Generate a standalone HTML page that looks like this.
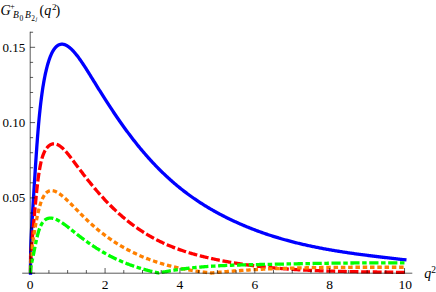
<!DOCTYPE html><html><head><meta charset="utf-8"><title>plot</title><style>html,body{margin:0;padding:0;background:#fff;font-family:"Liberation Serif",serif}svg{display:block}</style></head><body>
<svg width="436" height="292" viewBox="0 0 436 292">
<rect width="436" height="292" fill="#fff"/>
<path d="M30.5 273L30.5 271.22L30.5 269.5L30.51 267.84L30.51 266.24L30.52 264.7L30.53 263.21L30.54 261.76L30.55 260.37L30.56 259.02L30.58 257.7L30.59 256.43L30.61 255.2L30.63 254L30.65 252.83L30.67 251.68L30.7 250.57L30.72 249.48L30.75 248.41L30.78 247.36L30.81 246.33L30.84 245.31L30.87 244.31L30.91 243.32L30.94 242.34L30.98 241.37L31.02 240.4L31.06 239.44L31.1 238.48L31.14 237.52L31.19 236.56L31.24 235.59L31.28 234.63L31.33 233.65L31.39 232.68L31.44 231.69L31.49 230.69L31.55 229.69L31.61 228.67L31.67 227.64L31.73 226.59L31.79 225.53L31.85 224.46L31.92 223.37L31.98 222.26L32.05 221.13L32.12 219.98L32.19 218.81L32.27 217.63L32.34 216.42L32.42 215.18L32.49 213.93L32.57 212.66L32.65 211.36L32.73 210.03L32.82 208.69L32.9 207.32L32.99 205.92L33.08 204.5L33.17 203.06L33.26 201.6L33.35 200.1L33.45 198.59L33.54 197.05L33.64 195.49L33.74 193.9L33.84 192.29L33.94 190.66L34.04 189L34.15 187.32L34.25 185.62L34.36 183.9L34.47 182.16L34.58 180.4L34.7 178.62L34.81 176.83L34.93 175.01L35.04 173.18L35.16 171.33L35.28 169.47L35.4 167.6L35.53 165.71L35.65 163.81L35.78 161.9L35.91 159.98L36.04 158.06L36.17 156.13L36.3 154.19L36.43 152.25L36.57 150.31L36.71 148.37L36.84 146.43L36.98 144.49L37.13 142.56L37.27 140.63L37.41 138.72L37.56 136.81L37.71 134.92L37.86 133.04L38.01 131.17L38.16 129.33L38.32 127.5L38.47 125.69L38.63 123.91L38.79 122.14L38.95 120.4L39.11 118.67L39.27 116.97L39.44 115.29L39.6 113.63L39.77 111.99L39.94 110.38L40.11 108.78L40.28 107.21L40.46 105.66L40.63 104.14L40.81 102.63L40.99 101.15L41.17 99.69L41.35 98.26L41.53 96.85L41.72 95.46L41.9 94.09L42.09 92.75L42.28 91.42L42.47 90.12L42.66 88.85L42.86 87.59L43.05 86.36L43.25 85.15L43.45 83.96L43.65 82.79L43.85 81.65L44.05 80.52L44.26 79.42L44.46 78.33L44.67 77.27L44.88 76.23L45.09 75.2L45.3 74.2L45.52 73.21L45.73 72.24L45.95 71.29L46.17 70.36L46.39 69.45L46.61 68.55L46.83 67.67L47.06 66.8L47.28 65.95L47.51 65.12L47.74 64.31L47.97 63.51L48.2 62.73L48.44 61.97L48.67 61.22L48.91 60.5L49.15 59.78L49.39 59.09L49.63 58.41L49.87 57.75L50.11 57.11L50.36 56.48L50.61 55.87L50.86 55.27L51.11 54.7L51.36 54.14L51.61 53.59L51.87 53.06L52.12 52.55L52.38 52.06L52.64 51.58L52.9 51.12L53.17 50.67L53.43 50.24L53.7 49.82L53.96 49.43L54.23 49.04L54.5 48.67L54.78 48.32L55.05 47.99L55.32 47.66L55.6 47.36L55.88 47.07L56.16 46.79L56.44 46.53L56.72 46.28L57.01 46.05L57.29 45.83L57.58 45.62L57.87 45.43L58.16 45.25L58.45 45.09L58.74 44.94L59.04 44.81L59.34 44.68L59.63 44.58L59.93 44.48L60.23 44.4L60.54 44.33L60.84 44.28L61.15 44.23L61.45 44.21L61.76 44.19L62.07 44.19L62.38 44.2L62.7 44.23L63.01 44.26L63.33 44.31L63.65 44.38L63.97 44.45L64.29 44.54L64.61 44.64L64.93 44.76L65.26 44.88L65.59 45.02L65.92 45.17L66.25 45.33L66.58 45.51L66.91 45.69L67.25 45.89L67.58 46.1L67.92 46.33L68.26 46.56L68.6 46.8L68.94 47.06L69.29 47.33L69.63 47.61L69.98 47.9L70.33 48.2L70.68 48.51L71.03 48.83L71.38 49.17L71.74 49.51L72.09 49.86L72.45 50.23L72.81 50.6L73.17 50.99L73.53 51.38L73.9 51.78L74.26 52.2L74.63 52.62L75 53.05L75.37 53.5L75.74 53.95L76.11 54.41L76.49 54.88L76.87 55.36L77.24 55.84L77.62 56.34L78 56.84L78.39 57.36L78.77 57.88L79.15 58.4L79.54 58.94L79.93 59.49L80.32 60.04L80.71 60.6L81.1 61.16L81.5 61.74L81.9 62.32L82.29 62.91L82.69 63.5L83.09 64.1L83.5 64.71L83.9 65.32L84.3 65.95L84.71 66.57L85.12 67.2L85.53 67.84L85.94 68.48L86.35 69.13L86.77 69.79L87.18 70.45L87.6 71.11L88.02 71.78L88.44 72.45L88.86 73.13L89.29 73.81L89.71 74.5L90.14 75.18L90.57 75.88L91 76.57L91.43 77.27L91.86 77.98L92.3 78.68L92.73 79.39L93.17 80.1L93.61 80.81L94.05 81.53L94.49 82.24L94.93 82.96L95.38 83.68L95.83 84.41L96.27 85.13L96.72 85.86L97.18 86.59L97.63 87.31L98.08 88.05L98.54 88.78L99 89.51L99.46 90.25L99.92 90.99L100.38 91.72L100.84 92.46L101.31 93.2L101.77 93.95L102.24 94.69L102.71 95.43L103.18 96.18L103.65 96.92L104.13 97.67L104.6 98.42L105.08 99.17L105.56 99.91L106.04 100.66L106.52 101.42L107.01 102.17L107.49 102.92L107.98 103.67L108.47 104.42L108.96 105.17L109.45 105.93L109.94 106.68L110.43 107.44L110.93 108.19L111.43 108.94L111.93 109.7L112.43 110.45L112.93 111.21L113.43 111.96L113.94 112.71L114.44 113.47L114.95 114.22L115.46 114.98L115.97 115.73L116.48 116.48L117 117.23L117.51 117.99L118.03 118.74L118.55 119.49L119.07 120.24L119.59 120.99L120.11 121.74L120.64 122.49L121.17 123.24L121.69 123.99L122.22 124.73L122.75 125.48L123.29 126.22L123.82 126.97L124.36 127.71L124.89 128.45L125.43 129.19L125.97 129.93L126.51 130.67L127.06 131.41L127.6 132.15L128.15 132.89L128.7 133.62L129.24 134.35L129.8 135.08L130.35 135.82L130.9 136.54L131.46 137.27L132.01 138L132.57 138.72L133.13 139.45L133.69 140.17L134.26 140.89L134.82 141.61L135.39 142.32L135.96 143.04L136.53 143.75L137.1 144.47L137.67 145.17L138.24 145.88L138.82 146.59L139.39 147.29L139.97 148L140.55 148.7L141.13 149.4L141.72 150.09L142.3 150.79L142.89 151.48L143.48 152.17L144.07 152.86L144.66 153.54L145.25 154.23L145.84 154.91L146.44 155.59L147.03 156.27L147.63 156.94L148.23 157.62L148.83 158.29L149.44 158.96L150.04 159.62L150.65 160.29L151.25 160.95L151.86 161.61L152.47 162.27L153.09 162.92L153.7 163.58L154.32 164.23L154.93 164.87L155.55 165.52L156.17 166.16L156.79 166.8L157.41 167.44L158.04 168.08L158.67 168.71L159.29 169.34L159.92 169.97L160.55 170.59L161.18 171.22L161.82 171.84L162.45 172.46L163.09 173.07L163.73 173.68L164.37 174.29L165.01 174.9L165.65 175.51L166.3 176.11L166.94 176.71L167.59 177.31L168.24 177.9L168.89 178.49L169.54 179.08L170.19 179.67L170.85 180.25L171.51 180.83L172.16 181.41L172.82 181.99L173.49 182.56L174.15 183.13L174.81 183.7L175.48 184.26L176.15 184.83L176.81 185.39L177.48 185.94L178.16 186.5L178.83 187.05L179.5 187.6L180.18 188.14L180.86 188.69L181.54 189.23L182.22 189.76L182.9 190.3L183.59 190.83L184.27 191.36L184.96 191.89L185.65 192.41L186.34 192.93L187.03 193.45L187.72 193.97L188.42 194.48L189.12 194.99L189.81 195.5L190.51 196.01L191.21 196.51L191.92 197.01L192.62 197.51L193.33 198L194.03 198.49L194.74 198.98L195.45 199.47L196.16 199.95L196.88 200.43L197.59 200.91L198.31 201.39L199.03 201.86L199.75 202.33L200.47 202.8L201.19 203.26L201.91 203.73L202.64 204.19L203.37 204.65L204.1 205.1L204.83 205.55L205.56 206L206.29 206.45L207.02 206.9L207.76 207.34L208.5 207.78L209.24 208.22L209.98 208.65L210.72 209.09L211.47 209.52L212.21 209.94L212.96 210.37L213.71 210.79L214.46 211.21L215.21 211.63L215.96 212.05L216.72 212.46L217.47 212.88L218.23 213.29L218.99 213.69L219.75 214.1L220.51 214.5L221.28 214.9L222.04 215.3L222.81 215.7L223.58 216.09L224.35 216.48L225.12 216.87L225.89 217.26L226.67 217.65L227.44 218.03L228.22 218.41L229 218.79L229.78 219.17L230.56 219.55L231.35 219.92L232.13 220.29L232.92 220.66L233.71 221.03L234.5 221.4L235.29 221.76L236.08 222.12L236.88 222.48L237.67 222.84L238.47 223.2L239.27 223.55L240.07 223.9L240.87 224.25L241.67 224.6L242.48 224.95L243.29 225.29L244.1 225.63L244.9 225.97L245.72 226.31L246.53 226.65L247.34 226.98L248.16 227.31L248.98 227.64L249.8 227.97L250.62 228.3L251.44 228.62L252.26 228.95L253.09 229.27L253.91 229.58L254.74 229.9L255.57 230.21L256.4 230.53L257.24 230.84L258.07 231.14L258.91 231.45L259.74 231.75L260.58 232.06L261.42 232.36L262.27 232.65L263.11 232.95L263.95 233.24L264.8 233.54L265.65 233.83L266.5 234.12L267.35 234.4L268.2 234.69L269.06 234.97L269.91 235.25L270.77 235.53L271.63 235.8L272.49 236.08L273.35 236.35L274.21 236.62L275.08 236.89L275.95 237.16L276.81 237.42L277.68 237.69L278.56 237.95L279.43 238.21L280.3 238.46L281.18 238.72L282.05 238.97L282.93 239.23L283.81 239.48L284.7 239.72L285.58 239.97L286.46 240.21L287.35 240.46L288.24 240.7L289.13 240.94L290.02 241.17L290.91 241.41L291.81 241.64L292.7 241.88L293.6 242.11L294.5 242.33L295.4 242.56L296.3 242.78L297.2 243.01L298.11 243.23L299.01 243.45L299.92 243.67L300.83 243.88L301.74 244.1L302.65 244.31L303.57 244.52L304.48 244.73L305.4 244.94L306.32 245.14L307.24 245.35L308.16 245.55L309.09 245.75L310.01 245.95L310.94 246.15L311.86 246.35L312.79 246.54L313.72 246.73L314.66 246.93L315.59 247.12L316.53 247.3L317.46 247.49L318.4 247.68L319.34 247.86L320.28 248.04L321.23 248.22L322.17 248.4L323.12 248.58L324.07 248.76L325.01 248.94L325.97 249.11L326.92 249.28L327.87 249.45L328.83 249.62L329.78 249.79L330.74 249.96L331.7 250.13L332.66 250.29L333.63 250.45L334.59 250.62L335.56 250.78L336.53 250.94L337.49 251.09L338.47 251.25L339.44 251.41L340.41 251.56L341.39 251.72L342.36 251.87L343.34 252.02L344.32 252.17L345.3 252.32L346.29 252.47L347.27 252.62L348.26 252.76L349.24 252.91L350.23 253.05L351.22 253.19L352.22 253.34L353.21 253.48L354.21 253.62L355.2 253.76L356.2 253.9L357.2 254.03L358.2 254.17L359.2 254.31L360.21 254.44L361.22 254.57L362.22 254.71L363.23 254.84L364.24 254.97L365.25 255.1L366.27 255.23L367.28 255.36L368.3 255.49L369.32 255.62L370.34 255.75L371.36 255.88L372.38 256L373.41 256.13L374.43 256.26L375.46 256.38L376.49 256.51L377.52 256.63L378.55 256.75L379.58 256.88L380.62 257L381.66 257.12L382.69 257.24L383.73 257.37L384.78 257.49L385.82 257.61L386.86 257.73L387.91 257.85L388.96 257.97L390 258.09L391.06 258.21L392.11 258.33L393.16 258.45L394.22 258.57L395.27 258.69L396.33 258.81L397.39 258.93L398.45 259.05L399.51 259.17L400.58 259.29L401.64 259.41L402.71 259.53L403.78 259.64L404.85 259.76" fill="none" stroke="#0000ff" stroke-width="3.3" stroke-linejoin="round" stroke-linecap="square"/>
<path d="M30.5 273L30.5 271.79L30.5 270.64L30.51 269.53L30.51 268.47L30.52 267.46L30.53 266.48L30.54 265.55L30.55 264.65L30.56 263.78L30.58 262.95L30.59 262.15L30.61 261.38L30.63 260.63L30.65 259.91L30.67 259.21L30.7 258.53L30.72 257.87L30.75 257.23L30.78 256.6L30.81 255.98L30.84 255.38L30.87 254.78L30.91 254.2L30.94 253.62L30.98 253.04L31.02 252.47L31.06 251.9L31.1 251.33L31.14 250.76L31.19 250.19L31.24 249.62L31.28 249.04L31.33 248.45L31.39 247.86L31.44 247.27L31.49 246.66L31.55 246.04L31.61 245.42L31.67 244.78L31.73 244.13L31.79 243.47L31.85 242.79L31.92 242.1L31.98 241.39L32.05 240.67L32.12 239.93L32.19 239.18L32.27 238.41L32.34 237.62L32.42 236.81L32.49 235.99L32.57 235.14L32.65 234.28L32.73 233.4L32.82 232.5L32.9 231.58L32.99 230.64L33.08 229.68L33.17 228.7L33.26 227.7L33.35 226.69L33.45 225.65L33.54 224.6L33.64 223.52L33.74 222.43L33.84 221.33L33.94 220.2L34.04 219.06L34.15 217.9L34.25 216.72L34.36 215.53L34.47 214.33L34.58 213.11L34.7 211.88L34.81 210.64L34.93 209.38L35.04 208.11L35.16 206.84L35.28 205.55L35.4 204.26L35.53 202.96L35.65 201.65L35.78 200.34L35.91 199.03L36.04 197.71L36.17 196.39L36.3 195.07L36.43 193.76L36.57 192.44L36.71 191.14L36.84 189.83L36.98 188.54L37.13 187.25L37.27 185.98L37.41 184.71L37.56 183.47L37.71 182.23L37.86 181.02L38.01 179.82L38.16 178.65L38.32 177.5L38.47 176.37L38.63 175.26L38.79 174.18L38.95 173.12L39.11 172.08L39.27 171.07L39.44 170.08L39.6 169.11L39.77 168.17L39.94 167.25L40.11 166.35L40.28 165.48L40.46 164.63L40.63 163.8L40.81 163L40.99 162.22L41.17 161.46L41.35 160.72L41.53 160.01L41.72 159.32L41.9 158.65L42.09 158L42.28 157.37L42.47 156.76L42.66 156.18L42.86 155.61L43.05 155.06L43.25 154.54L43.45 154.03L43.65 153.54L43.85 153.07L44.05 152.61L44.26 152.17L44.46 151.75L44.67 151.34L44.88 150.95L45.09 150.57L45.3 150.21L45.52 149.85L45.73 149.51L45.95 149.19L46.17 148.87L46.39 148.56L46.61 148.26L46.83 147.97L47.06 147.69L47.28 147.42L47.51 147.16L47.74 146.91L47.97 146.67L48.2 146.44L48.44 146.22L48.67 146L48.91 145.8L49.15 145.61L49.39 145.42L49.63 145.25L49.87 145.08L50.11 144.93L50.36 144.79L50.61 144.65L50.86 144.52L51.11 144.41L51.36 144.3L51.61 144.21L51.87 144.12L52.12 144.05L52.38 143.98L52.64 143.92L52.9 143.88L53.17 143.84L53.43 143.82L53.7 143.8L53.96 143.8L54.23 143.8L54.5 143.81L54.78 143.84L55.05 143.87L55.32 143.92L55.6 143.97L55.88 144.04L56.16 144.12L56.44 144.2L56.72 144.3L57.01 144.4L57.29 144.52L57.58 144.65L57.87 144.79L58.16 144.93L58.45 145.09L58.74 145.26L59.04 145.44L59.34 145.63L59.63 145.83L59.93 146.03L60.23 146.25L60.54 146.48L60.84 146.71L61.15 146.96L61.45 147.21L61.76 147.47L62.07 147.75L62.38 148.03L62.7 148.32L63.01 148.61L63.33 148.92L63.65 149.23L63.97 149.56L64.29 149.89L64.61 150.22L64.93 150.57L65.26 150.92L65.59 151.28L65.92 151.65L66.25 152.03L66.58 152.41L66.91 152.8L67.25 153.19L67.58 153.59L67.92 154L68.26 154.41L68.6 154.83L68.94 155.26L69.29 155.69L69.63 156.13L69.98 156.57L70.33 157.01L70.68 157.47L71.03 157.92L71.38 158.38L71.74 158.85L72.09 159.31L72.45 159.79L72.81 160.26L73.17 160.74L73.53 161.22L73.9 161.71L74.26 162.2L74.63 162.69L75 163.18L75.37 163.68L75.74 164.18L76.11 164.67L76.49 165.18L76.87 165.68L77.24 166.18L77.62 166.69L78 167.19L78.39 167.7L78.77 168.21L79.15 168.72L79.54 169.23L79.93 169.75L80.32 170.26L80.71 170.78L81.1 171.29L81.5 171.81L81.9 172.33L82.29 172.85L82.69 173.37L83.09 173.89L83.5 174.41L83.9 174.93L84.3 175.46L84.71 175.98L85.12 176.51L85.53 177.03L85.94 177.56L86.35 178.08L86.77 178.61L87.18 179.13L87.6 179.66L88.02 180.19L88.44 180.72L88.86 181.24L89.29 181.77L89.71 182.3L90.14 182.83L90.57 183.35L91 183.88L91.43 184.41L91.86 184.94L92.3 185.46L92.73 185.99L93.17 186.52L93.61 187.04L94.05 187.57L94.49 188.1L94.93 188.62L95.38 189.15L95.83 189.67L96.27 190.2L96.72 190.72L97.18 191.24L97.63 191.77L98.08 192.29L98.54 192.81L99 193.33L99.46 193.85L99.92 194.37L100.38 194.89L100.84 195.4L101.31 195.92L101.77 196.44L102.24 196.95L102.71 197.46L103.18 197.98L103.65 198.49L104.13 199L104.6 199.51L105.08 200.02L105.56 200.53L106.04 201.03L106.52 201.54L107.01 202.04L107.49 202.54L107.98 203.05L108.47 203.55L108.96 204.04L109.45 204.54L109.94 205.04L110.43 205.53L110.93 206.03L111.43 206.52L111.93 207.01L112.43 207.5L112.93 207.98L113.43 208.47L113.94 208.95L114.44 209.44L114.95 209.92L115.46 210.4L115.97 210.87L116.48 211.35L117 211.83L117.51 212.3L118.03 212.77L118.55 213.24L119.07 213.7L119.59 214.17L120.11 214.63L120.64 215.1L121.17 215.56L121.69 216.01L122.22 216.47L122.75 216.92L123.29 217.38L123.82 217.83L124.36 218.27L124.89 218.72L125.43 219.17L125.97 219.61L126.51 220.05L127.06 220.49L127.6 220.92L128.15 221.36L128.7 221.79L129.24 222.22L129.8 222.65L130.35 223.07L130.9 223.49L131.46 223.92L132.01 224.33L132.57 224.75L133.13 225.17L133.69 225.58L134.26 225.99L134.82 226.4L135.39 226.8L135.96 227.21L136.53 227.61L137.1 228.01L137.67 228.4L138.24 228.8L138.82 229.19L139.39 229.58L139.97 229.97L140.55 230.35L141.13 230.73L141.72 231.11L142.3 231.49L142.89 231.87L143.48 232.24L144.07 232.61L144.66 232.98L145.25 233.35L145.84 233.71L146.44 234.07L147.03 234.43L147.63 234.79L148.23 235.14L148.83 235.49L149.44 235.84L150.04 236.19L150.65 236.53L151.25 236.88L151.86 237.22L152.47 237.55L153.09 237.89L153.7 238.22L154.32 238.55L154.93 238.88L155.55 239.2L156.17 239.53L156.79 239.85L157.41 240.17L158.04 240.48L158.67 240.8L159.29 241.11L159.92 241.41L160.55 241.72L161.18 242.02L161.82 242.33L162.45 242.63L163.09 242.92L163.73 243.22L164.37 243.51L165.01 243.8L165.65 244.09L166.3 244.37L166.94 244.65L167.59 244.93L168.24 245.21L168.89 245.49L169.54 245.76L170.19 246.03L170.85 246.3L171.51 246.57L172.16 246.83L172.82 247.1L173.49 247.36L174.15 247.61L174.81 247.87L175.48 248.12L176.15 248.37L176.81 248.62L177.48 248.87L178.16 249.11L178.83 249.36L179.5 249.6L180.18 249.84L180.86 250.07L181.54 250.31L182.22 250.54L182.9 250.77L183.59 251L184.27 251.22L184.96 251.45L185.65 251.67L186.34 251.89L187.03 252.11L187.72 252.32L188.42 252.54L189.12 252.75L189.81 252.96L190.51 253.17L191.21 253.38L191.92 253.58L192.62 253.79L193.33 253.99L194.03 254.19L194.74 254.38L195.45 254.58L196.16 254.78L196.88 254.97L197.59 255.16L198.31 255.35L199.03 255.54L199.75 255.72L200.47 255.91L201.19 256.09L201.91 256.28L202.64 256.46L203.37 256.64L204.1 256.81L204.83 256.99L205.56 257.16L206.29 257.34L207.02 257.51L207.76 257.68L208.5 257.85L209.24 258.02L209.98 258.19L210.72 258.35L211.47 258.52L212.21 258.68L212.96 258.85L213.71 259.01L214.46 259.17L215.21 259.33L215.96 259.49L216.72 259.64L217.47 259.8L218.23 259.95L218.99 260.11L219.75 260.26L220.51 260.41L221.28 260.56L222.04 260.71L222.81 260.86L223.58 261.01L224.35 261.15L225.12 261.3L225.89 261.44L226.67 261.58L227.44 261.73L228.22 261.87L229 262.01L229.78 262.14L230.56 262.28L231.35 262.42L232.13 262.55L232.92 262.68L233.71 262.82L234.5 262.95L235.29 263.08L236.08 263.21L236.88 263.34L237.67 263.46L238.47 263.59L239.27 263.71L240.07 263.84L240.87 263.96L241.67 264.08L242.48 264.2L243.29 264.32L244.1 264.44L244.9 264.55L245.72 264.67L246.53 264.78L247.34 264.9L248.16 265.01L248.98 265.12L249.8 265.23L250.62 265.34L251.44 265.45L252.26 265.55L253.09 265.66L253.91 265.76L254.74 265.87L255.57 265.97L256.4 266.07L257.24 266.17L258.07 266.27L258.91 266.37L259.74 266.46L260.58 266.56L261.42 266.66L262.27 266.75L263.11 266.84L263.95 266.93L264.8 267.02L265.65 267.11L266.5 267.2L267.35 267.29L268.2 267.38L269.06 267.46L269.91 267.55L270.77 267.63L271.63 267.71L272.49 267.79L273.35 267.87L274.21 267.95L275.08 268.03L275.95 268.11L276.81 268.18L277.68 268.26L278.56 268.33L279.43 268.41L280.3 268.48L281.18 268.55L282.05 268.62L282.93 268.69L283.81 268.76L284.7 268.83L285.58 268.89L286.46 268.96L287.35 269.02L288.24 269.09L289.13 269.15L290.02 269.21L290.91 269.27L291.81 269.33L292.7 269.39L293.6 269.45L294.5 269.51L295.4 269.57L296.3 269.62L297.2 269.68L298.11 269.73L299.01 269.78L299.92 269.84L300.83 269.89L301.74 269.94L302.65 269.99L303.57 270.04L304.48 270.08L305.4 270.13L306.32 270.18L307.24 270.22L308.16 270.27L309.09 270.31L310.01 270.36L310.94 270.4L311.86 270.44L312.79 270.48L313.72 270.52L314.66 270.56L315.59 270.6L316.53 270.64L317.46 270.68L318.4 270.72L319.34 270.75L320.28 270.79L321.23 270.82L322.17 270.86L323.12 270.89L324.07 270.92L325.01 270.96L325.97 270.99L326.92 271.02L327.87 271.05L328.83 271.08L329.78 271.11L330.74 271.14L331.7 271.16L332.66 271.19L333.63 271.22L334.59 271.25L335.56 271.27L336.53 271.3L337.49 271.32L338.47 271.35L339.44 271.37L340.41 271.39L341.39 271.42L342.36 271.44L343.34 271.46L344.32 271.48L345.3 271.51L346.29 271.53L347.27 271.55L348.26 271.57L349.24 271.59L350.23 271.61L351.22 271.63L352.22 271.64L353.21 271.66L354.21 271.68L355.2 271.7L356.2 271.72L357.2 271.73L358.2 271.75L359.2 271.77L360.21 271.78L361.22 271.8L362.22 271.81L363.23 271.83L364.24 271.85L365.25 271.86L366.27 271.88L367.28 271.89L368.3 271.91L369.32 271.92L370.34 271.93L371.36 271.95L372.38 271.96L373.41 271.98L374.43 271.99L375.46 272.01L376.49 272.02L377.52 272.03L378.55 272.05L379.58 272.06L380.62 272.08L381.66 272.09L382.69 272.1L383.73 272.12L384.78 272.13L385.82 272.15L386.86 272.16L387.91 272.17L388.96 272.19L390 272.2L391.06 272.22L392.11 272.23L393.16 272.25L394.22 272.26L395.27 272.28L396.33 272.29L397.39 272.31L398.45 272.33L399.51 272.34L400.58 272.36L401.64 272.38L402.71 272.39L403.78 272.41L404.85 272.43" fill="none" stroke="#ff0000" stroke-width="3.3" stroke-linejoin="round" stroke-dasharray="8.9 2.708" stroke-dashoffset="1.02"/>
<path d="M30.5 273L30.5 272.37L30.5 271.74L30.51 271.13L30.51 270.52L30.52 269.93L30.53 269.34L30.54 268.75L30.55 268.18L30.56 267.61L30.58 267.05L30.59 266.49L30.61 265.94L30.63 265.39L30.65 264.84L30.67 264.3L30.7 263.77L30.72 263.23L30.75 262.7L30.78 262.18L30.81 261.65L30.84 261.12L30.87 260.6L30.91 260.08L30.94 259.56L30.98 259.03L31.02 258.51L31.06 257.99L31.1 257.47L31.14 256.95L31.19 256.42L31.24 255.9L31.28 255.37L31.33 254.84L31.39 254.31L31.44 253.78L31.49 253.24L31.55 252.7L31.61 252.16L31.67 251.62L31.73 251.07L31.79 250.52L31.85 249.97L31.92 249.41L31.98 248.85L32.05 248.29L32.12 247.72L32.19 247.15L32.27 246.57L32.34 245.99L32.42 245.41L32.49 244.82L32.57 244.23L32.65 243.63L32.73 243.03L32.82 242.42L32.9 241.81L32.99 241.2L33.08 240.58L33.17 239.96L33.26 239.33L33.35 238.7L33.45 238.06L33.54 237.42L33.64 236.78L33.74 236.13L33.84 235.48L33.94 234.83L34.04 234.17L34.15 233.51L34.25 232.84L34.36 232.17L34.47 231.5L34.58 230.82L34.7 230.15L34.81 229.46L34.93 228.78L35.04 228.1L35.16 227.41L35.28 226.72L35.4 226.03L35.53 225.34L35.65 224.64L35.78 223.95L35.91 223.26L36.04 222.56L36.17 221.87L36.3 221.17L36.43 220.48L36.57 219.78L36.71 219.09L36.84 218.4L36.98 217.71L37.13 217.03L37.27 216.34L37.41 215.66L37.56 214.99L37.71 214.31L37.86 213.64L38.01 212.98L38.16 212.32L38.32 211.66L38.47 211.01L38.63 210.37L38.79 209.74L38.95 209.11L39.11 208.49L39.27 207.87L39.44 207.27L39.6 206.67L39.77 206.09L39.94 205.51L40.11 204.95L40.28 204.4L40.46 203.85L40.63 203.32L40.81 202.8L40.99 202.29L41.17 201.79L41.35 201.3L41.53 200.82L41.72 200.35L41.9 199.9L42.09 199.46L42.28 199.02L42.47 198.6L42.66 198.19L42.86 197.79L43.05 197.41L43.25 197.03L43.45 196.66L43.65 196.31L43.85 195.97L44.05 195.64L44.26 195.32L44.46 195.01L44.67 194.71L44.88 194.43L45.09 194.15L45.3 193.89L45.52 193.64L45.73 193.39L45.95 193.16L46.17 192.94L46.39 192.73L46.61 192.53L46.83 192.34L47.06 192.17L47.28 192L47.51 191.84L47.74 191.69L47.97 191.55L48.2 191.43L48.44 191.31L48.67 191.2L48.91 191.1L49.15 191.01L49.39 190.93L49.63 190.85L49.87 190.79L50.11 190.73L50.36 190.69L50.61 190.65L50.86 190.62L51.11 190.61L51.36 190.6L51.61 190.59L51.87 190.6L52.12 190.62L52.38 190.64L52.64 190.67L52.9 190.71L53.17 190.76L53.43 190.82L53.7 190.88L53.96 190.96L54.23 191.04L54.5 191.12L54.78 191.22L55.05 191.32L55.32 191.44L55.6 191.55L55.88 191.68L56.16 191.81L56.44 191.95L56.72 192.1L57.01 192.25L57.29 192.41L57.58 192.58L57.87 192.75L58.16 192.93L58.45 193.12L58.74 193.31L59.04 193.51L59.34 193.71L59.63 193.92L59.93 194.13L60.23 194.35L60.54 194.58L60.84 194.81L61.15 195.04L61.45 195.28L61.76 195.52L62.07 195.77L62.38 196.02L62.7 196.28L63.01 196.54L63.33 196.81L63.65 197.08L63.97 197.36L64.29 197.63L64.61 197.92L64.93 198.21L65.26 198.5L65.59 198.79L65.92 199.09L66.25 199.4L66.58 199.7L66.91 200.01L67.25 200.33L67.58 200.65L67.92 200.97L68.26 201.29L68.6 201.62L68.94 201.95L69.29 202.29L69.63 202.62L69.98 202.97L70.33 203.31L70.68 203.66L71.03 204.01L71.38 204.36L71.74 204.71L72.09 205.07L72.45 205.43L72.81 205.8L73.17 206.16L73.53 206.53L73.9 206.9L74.26 207.27L74.63 207.65L75 208.02L75.37 208.4L75.74 208.78L76.11 209.16L76.49 209.55L76.87 209.93L77.24 210.32L77.62 210.71L78 211.09L78.39 211.48L78.77 211.88L79.15 212.27L79.54 212.66L79.93 213.06L80.32 213.45L80.71 213.85L81.1 214.25L81.5 214.64L81.9 215.04L82.29 215.44L82.69 215.84L83.09 216.23L83.5 216.63L83.9 217.03L84.3 217.43L84.71 217.83L85.12 218.22L85.53 218.62L85.94 219.02L86.35 219.41L86.77 219.81L87.18 220.2L87.6 220.6L88.02 220.99L88.44 221.39L88.86 221.78L89.29 222.17L89.71 222.57L90.14 222.96L90.57 223.35L91 223.74L91.43 224.13L91.86 224.52L92.3 224.91L92.73 225.29L93.17 225.68L93.61 226.06L94.05 226.45L94.49 226.83L94.93 227.22L95.38 227.6L95.83 227.98L96.27 228.36L96.72 228.74L97.18 229.12L97.63 229.49L98.08 229.87L98.54 230.24L99 230.62L99.46 230.99L99.92 231.36L100.38 231.73L100.84 232.1L101.31 232.47L101.77 232.84L102.24 233.2L102.71 233.57L103.18 233.93L103.65 234.29L104.13 234.65L104.6 235.01L105.08 235.37L105.56 235.73L106.04 236.08L106.52 236.43L107.01 236.79L107.49 237.14L107.98 237.49L108.47 237.84L108.96 238.18L109.45 238.53L109.94 238.87L110.43 239.22L110.93 239.56L111.43 239.9L111.93 240.24L112.43 240.57L112.93 240.91L113.43 241.24L113.94 241.58L114.44 241.91L114.95 242.24L115.46 242.56L115.97 242.89L116.48 243.22L117 243.54L117.51 243.86L118.03 244.18L118.55 244.5L119.07 244.82L119.59 245.13L120.11 245.45L120.64 245.76L121.17 246.07L121.69 246.38L122.22 246.69L122.75 246.99L123.29 247.3L123.82 247.6L124.36 247.9L124.89 248.2L125.43 248.5L125.97 248.8L126.51 249.09L127.06 249.39L127.6 249.68L128.15 249.97L128.7 250.26L129.24 250.55L129.8 250.83L130.35 251.12L130.9 251.4L131.46 251.68L132.01 251.96L132.57 252.24L133.13 252.51L133.69 252.78L134.26 253.06L134.82 253.33L135.39 253.6L135.96 253.86L136.53 254.13L137.1 254.39L137.67 254.65L138.24 254.91L138.82 255.17L139.39 255.43L139.97 255.68L140.55 255.94L141.13 256.19L141.72 256.44L142.3 256.69L142.89 256.93L143.48 257.18L144.07 257.42L144.66 257.66L145.25 257.9L145.84 258.14L146.44 258.37L147.03 258.6L147.63 258.84L148.23 259.07L148.83 259.29L149.44 259.52L150.04 259.74L150.65 259.97L151.25 260.19L151.86 260.41L152.47 260.62L153.09 260.84L153.7 261.05L154.32 261.26L154.93 261.47L155.55 261.68L156.17 261.89L156.79 262.09L157.41 262.29L158.04 262.49L158.67 262.69L159.29 262.89L159.92 263.08L160.55 263.28L161.18 263.47L161.82 263.66L162.45 263.85L163.09 264.03L163.73 264.22L164.37 264.4L165.01 264.58L165.65 264.76L166.3 264.94L166.94 265.11L167.59 265.29L168.24 265.46L168.89 265.63L169.54 265.8L170.19 265.96L170.85 266.13L171.51 266.29L172.16 266.45L172.82 266.61L173.49 266.77L174.15 266.92L174.81 267.08L175.48 267.23L176.15 267.38L176.81 267.53L177.48 267.68L178.16 267.82L178.83 267.97L179.5 268.11L180.18 268.25L180.86 268.39L181.54 268.53L182.22 268.67L182.9 268.8L183.59 268.93L184.27 269.06L184.96 269.19L185.65 269.32L186.34 269.45L187.03 269.57L187.72 269.7L188.42 269.82L189.12 269.94L189.81 270.06L190.51 270.18L191.21 270.29L191.92 270.41L192.62 270.52L193.33 270.63L194.03 270.74L194.74 270.85L195.45 270.96L196.16 271.06L196.88 271.17L197.59 271.27L198.31 271.37L199.03 271.47L199.75 271.57L200.47 271.67L201.19 271.77L201.91 271.86L202.64 271.96L203.37 272.05L204.1 272.14L204.83 272.23L205.56 272.32L206.29 272.41L207.02 272.5L207.76 272.59L208.5 272.67L209.24 272.75L209.98 272.84L210.72 272.92L211.47 273L212.21 272.92L212.96 272.84L213.71 272.76L214.46 272.69L215.21 272.61L215.96 272.54L216.72 272.46L217.47 272.39L218.23 272.32L218.99 272.24L219.75 272.17L220.51 272.1L221.28 272.03L222.04 271.97L222.81 271.9L223.58 271.83L224.35 271.76L225.12 271.7L225.89 271.63L226.67 271.57L227.44 271.5L228.22 271.44L229 271.38L229.78 271.32L230.56 271.25L231.35 271.19L232.13 271.13L232.92 271.07L233.71 271.01L234.5 270.95L235.29 270.89L236.08 270.84L236.88 270.78L237.67 270.72L238.47 270.66L239.27 270.61L240.07 270.55L240.87 270.5L241.67 270.44L242.48 270.39L243.29 270.33L244.1 270.28L244.9 270.23L245.72 270.18L246.53 270.13L247.34 270.08L248.16 270.03L248.98 269.98L249.8 269.93L250.62 269.88L251.44 269.83L252.26 269.78L253.09 269.73L253.91 269.69L254.74 269.64L255.57 269.6L256.4 269.55L257.24 269.51L258.07 269.46L258.91 269.42L259.74 269.37L260.58 269.33L261.42 269.29L262.27 269.25L263.11 269.21L263.95 269.17L264.8 269.13L265.65 269.09L266.5 269.05L267.35 269.01L268.2 268.97L269.06 268.93L269.91 268.9L270.77 268.86L271.63 268.82L272.49 268.79L273.35 268.75L274.21 268.72L275.08 268.68L275.95 268.65L276.81 268.62L277.68 268.58L278.56 268.55L279.43 268.52L280.3 268.49L281.18 268.46L282.05 268.43L282.93 268.4L283.81 268.37L284.7 268.34L285.58 268.31L286.46 268.28L287.35 268.25L288.24 268.22L289.13 268.2L290.02 268.17L290.91 268.15L291.81 268.12L292.7 268.1L293.6 268.07L294.5 268.05L295.4 268.02L296.3 268L297.2 267.98L298.11 267.95L299.01 267.93L299.92 267.91L300.83 267.89L301.74 267.87L302.65 267.85L303.57 267.83L304.48 267.81L305.4 267.79L306.32 267.77L307.24 267.75L308.16 267.73L309.09 267.72L310.01 267.7L310.94 267.68L311.86 267.67L312.79 267.65L313.72 267.63L314.66 267.62L315.59 267.6L316.53 267.59L317.46 267.57L318.4 267.56L319.34 267.55L320.28 267.53L321.23 267.52L322.17 267.51L323.12 267.5L324.07 267.48L325.01 267.47L325.97 267.46L326.92 267.45L327.87 267.44L328.83 267.43L329.78 267.42L330.74 267.41L331.7 267.4L332.66 267.39L333.63 267.38L334.59 267.38L335.56 267.37L336.53 267.36L337.49 267.35L338.47 267.34L339.44 267.34L340.41 267.33L341.39 267.32L342.36 267.32L343.34 267.31L344.32 267.31L345.3 267.3L346.29 267.3L347.27 267.29L348.26 267.29L349.24 267.28L350.23 267.28L351.22 267.27L352.22 267.27L353.21 267.27L354.21 267.26L355.2 267.26L356.2 267.26L357.2 267.25L358.2 267.25L359.2 267.25L360.21 267.25L361.22 267.24L362.22 267.24L363.23 267.24L364.24 267.24L365.25 267.24L366.27 267.24L367.28 267.24L368.3 267.23L369.32 267.23L370.34 267.23L371.36 267.23L372.38 267.23L373.41 267.23L374.43 267.23L375.46 267.23L376.49 267.23L377.52 267.23L378.55 267.23L379.58 267.23L380.62 267.23L381.66 267.23L382.69 267.23L383.73 267.23L384.78 267.23L385.82 267.23L386.86 267.24L387.91 267.24L388.96 267.24L390 267.24L391.06 267.24L392.11 267.24L393.16 267.24L394.22 267.24L395.27 267.24L396.33 267.24L397.39 267.24L398.45 267.24L399.51 267.24L400.58 267.24L401.64 267.24L402.71 267.25L403.78 267.25L404.85 267.25" fill="none" stroke="#ff8000" stroke-width="3.3" stroke-linejoin="round" stroke-dasharray="4.5 2.7845" stroke-dashoffset="5.06"/>
<path d="M30.5 273L30.5 272.59L30.5 272.2L30.51 271.83L30.51 271.48L30.52 271.14L30.53 270.82L30.54 270.5L30.55 270.21L30.56 269.92L30.58 269.64L30.59 269.38L30.61 269.12L30.63 268.87L30.65 268.63L30.67 268.4L30.7 268.17L30.72 267.94L30.75 267.73L30.78 267.51L30.81 267.3L30.84 267.09L30.87 266.88L30.91 266.67L30.94 266.46L30.98 266.25L31.02 266.04L31.06 265.83L31.1 265.62L31.14 265.41L31.19 265.19L31.24 264.97L31.28 264.74L31.33 264.51L31.39 264.27L31.44 264.03L31.49 263.79L31.55 263.54L31.61 263.28L31.67 263.01L31.73 262.74L31.79 262.46L31.85 262.17L31.92 261.87L31.98 261.57L32.05 261.26L32.12 260.94L32.19 260.61L32.27 260.27L32.34 259.92L32.42 259.56L32.49 259.2L32.57 258.82L32.65 258.44L32.73 258.04L32.82 257.64L32.9 257.23L32.99 256.8L33.08 256.37L33.17 255.93L33.26 255.48L33.35 255.02L33.45 254.55L33.54 254.07L33.64 253.58L33.74 253.08L33.84 252.58L33.94 252.06L34.04 251.54L34.15 251.01L34.25 250.48L34.36 249.93L34.47 249.38L34.58 248.82L34.7 248.26L34.81 247.69L34.93 247.11L35.04 246.53L35.16 245.94L35.28 245.35L35.4 244.76L35.53 244.16L35.65 243.56L35.78 242.96L35.91 242.36L36.04 241.75L36.17 241.14L36.3 240.54L36.43 239.93L36.57 239.32L36.71 238.72L36.84 238.12L36.98 237.52L37.13 236.93L37.27 236.34L37.41 235.75L37.56 235.18L37.71 234.61L37.86 234.04L38.01 233.49L38.16 232.94L38.32 232.41L38.47 231.88L38.63 231.36L38.79 230.86L38.95 230.36L39.11 229.88L39.27 229.4L39.44 228.94L39.6 228.49L39.77 228.04L39.94 227.61L40.11 227.19L40.28 226.78L40.46 226.38L40.63 225.99L40.81 225.61L40.99 225.24L41.17 224.89L41.35 224.54L41.53 224.21L41.72 223.88L41.9 223.57L42.09 223.26L42.28 222.97L42.47 222.69L42.66 222.41L42.86 222.15L43.05 221.9L43.25 221.66L43.45 221.42L43.65 221.2L43.85 220.99L44.05 220.78L44.26 220.59L44.46 220.4L44.67 220.22L44.88 220.05L45.09 219.89L45.3 219.74L45.52 219.59L45.73 219.45L45.95 219.32L46.17 219.2L46.39 219.08L46.61 218.97L46.83 218.87L47.06 218.77L47.28 218.68L47.51 218.6L47.74 218.52L47.97 218.45L48.2 218.39L48.44 218.33L48.67 218.28L48.91 218.24L49.15 218.2L49.39 218.17L49.63 218.14L49.87 218.12L50.11 218.11L50.36 218.1L50.61 218.1L50.86 218.11L51.11 218.12L51.36 218.14L51.61 218.17L51.87 218.2L52.12 218.23L52.38 218.28L52.64 218.33L52.9 218.38L53.17 218.44L53.43 218.51L53.7 218.58L53.96 218.65L54.23 218.74L54.5 218.83L54.78 218.92L55.05 219.02L55.32 219.12L55.6 219.23L55.88 219.34L56.16 219.46L56.44 219.59L56.72 219.72L57.01 219.85L57.29 219.99L57.58 220.13L57.87 220.28L58.16 220.43L58.45 220.59L58.74 220.75L59.04 220.91L59.34 221.08L59.63 221.26L59.93 221.44L60.23 221.62L60.54 221.8L60.84 221.99L61.15 222.19L61.45 222.39L61.76 222.59L62.07 222.79L62.38 223L62.7 223.21L63.01 223.43L63.33 223.65L63.65 223.87L63.97 224.1L64.29 224.33L64.61 224.56L64.93 224.8L65.26 225.04L65.59 225.28L65.92 225.53L66.25 225.78L66.58 226.03L66.91 226.28L67.25 226.54L67.58 226.8L67.92 227.06L68.26 227.32L68.6 227.59L68.94 227.86L69.29 228.13L69.63 228.4L69.98 228.68L70.33 228.95L70.68 229.23L71.03 229.51L71.38 229.8L71.74 230.08L72.09 230.36L72.45 230.65L72.81 230.94L73.17 231.23L73.53 231.52L73.9 231.81L74.26 232.1L74.63 232.4L75 232.69L75.37 232.98L75.74 233.28L76.11 233.58L76.49 233.87L76.87 234.17L77.24 234.46L77.62 234.76L78 235.06L78.39 235.36L78.77 235.65L79.15 235.95L79.54 236.25L79.93 236.55L80.32 236.85L80.71 237.15L81.1 237.45L81.5 237.74L81.9 238.04L82.29 238.34L82.69 238.64L83.09 238.94L83.5 239.24L83.9 239.54L84.3 239.83L84.71 240.13L85.12 240.43L85.53 240.73L85.94 241.03L86.35 241.32L86.77 241.62L87.18 241.92L87.6 242.22L88.02 242.51L88.44 242.81L88.86 243.1L89.29 243.4L89.71 243.69L90.14 243.99L90.57 244.28L91 244.57L91.43 244.87L91.86 245.16L92.3 245.45L92.73 245.74L93.17 246.03L93.61 246.32L94.05 246.61L94.49 246.9L94.93 247.19L95.38 247.48L95.83 247.76L96.27 248.05L96.72 248.33L97.18 248.62L97.63 248.9L98.08 249.18L98.54 249.47L99 249.75L99.46 250.03L99.92 250.31L100.38 250.58L100.84 250.86L101.31 251.14L101.77 251.41L102.24 251.69L102.71 251.96L103.18 252.24L103.65 252.51L104.13 252.78L104.6 253.05L105.08 253.32L105.56 253.58L106.04 253.85L106.52 254.12L107.01 254.38L107.49 254.64L107.98 254.9L108.47 255.17L108.96 255.43L109.45 255.68L109.94 255.94L110.43 256.2L110.93 256.45L111.43 256.71L111.93 256.96L112.43 257.21L112.93 257.46L113.43 257.71L113.94 257.96L114.44 258.2L114.95 258.45L115.46 258.69L115.97 258.93L116.48 259.17L117 259.41L117.51 259.65L118.03 259.89L118.55 260.12L119.07 260.36L119.59 260.59L120.11 260.82L120.64 261.05L121.17 261.28L121.69 261.5L122.22 261.73L122.75 261.95L123.29 262.18L123.82 262.4L124.36 262.62L124.89 262.84L125.43 263.05L125.97 263.27L126.51 263.48L127.06 263.69L127.6 263.9L128.15 264.11L128.7 264.32L129.24 264.53L129.8 264.73L130.35 264.94L130.9 265.14L131.46 265.34L132.01 265.54L132.57 265.74L133.13 265.93L133.69 266.13L134.26 266.32L134.82 266.51L135.39 266.7L135.96 266.89L136.53 267.08L137.1 267.27L137.67 267.45L138.24 267.63L138.82 267.81L139.39 267.99L139.97 268.17L140.55 268.35L141.13 268.53L141.72 268.7L142.3 268.87L142.89 269.04L143.48 269.21L144.07 269.38L144.66 269.55L145.25 269.71L145.84 269.88L146.44 270.04L147.03 270.2L147.63 270.36L148.23 270.52L148.83 270.67L149.44 270.83L150.04 270.98L150.65 271.13L151.25 271.28L151.86 271.43L152.47 271.58L153.09 271.73L153.7 271.87L154.32 272.02L154.93 272.16L155.55 272.3L156.17 272.44L156.79 272.58L157.41 272.71L158.04 272.85L158.67 272.98L159.29 272.88L159.92 272.75L160.55 272.62L161.18 272.49L161.82 272.37L162.45 272.24L163.09 272.11L163.73 271.99L164.37 271.87L165.01 271.75L165.65 271.63L166.3 271.51L166.94 271.39L167.59 271.27L168.24 271.16L168.89 271.04L169.54 270.93L170.19 270.82L170.85 270.71L171.51 270.6L172.16 270.49L172.82 270.38L173.49 270.28L174.15 270.17L174.81 270.07L175.48 269.97L176.15 269.87L176.81 269.77L177.48 269.67L178.16 269.57L178.83 269.48L179.5 269.38L180.18 269.29L180.86 269.19L181.54 269.1L182.22 269.01L182.9 268.92L183.59 268.83L184.27 268.75L184.96 268.66L185.65 268.58L186.34 268.49L187.03 268.41L187.72 268.33L188.42 268.25L189.12 268.17L189.81 268.09L190.51 268.02L191.21 267.94L191.92 267.86L192.62 267.79L193.33 267.72L194.03 267.65L194.74 267.58L195.45 267.51L196.16 267.44L196.88 267.37L197.59 267.31L198.31 267.24L199.03 267.18L199.75 267.11L200.47 267.05L201.19 266.99L201.91 266.93L202.64 266.87L203.37 266.81L204.1 266.75L204.83 266.7L205.56 266.64L206.29 266.59L207.02 266.54L207.76 266.48L208.5 266.43L209.24 266.38L209.98 266.33L210.72 266.28L211.47 266.23L212.21 266.19L212.96 266.14L213.71 266.09L214.46 266.05L215.21 266.01L215.96 265.96L216.72 265.92L217.47 265.88L218.23 265.84L218.99 265.8L219.75 265.76L220.51 265.72L221.28 265.68L222.04 265.65L222.81 265.61L223.58 265.58L224.35 265.54L225.12 265.51L225.89 265.47L226.67 265.44L227.44 265.41L228.22 265.38L229 265.35L229.78 265.32L230.56 265.29L231.35 265.26L232.13 265.23L232.92 265.2L233.71 265.18L234.5 265.15L235.29 265.12L236.08 265.1L236.88 265.07L237.67 265.05L238.47 265.03L239.27 265L240.07 264.98L240.87 264.96L241.67 264.93L242.48 264.91L243.29 264.89L244.1 264.87L244.9 264.85L245.72 264.83L246.53 264.81L247.34 264.79L248.16 264.77L248.98 264.75L249.8 264.73L250.62 264.71L251.44 264.69L252.26 264.68L253.09 264.66L253.91 264.64L254.74 264.62L255.57 264.6L256.4 264.59L257.24 264.57L258.07 264.55L258.91 264.54L259.74 264.52L260.58 264.5L261.42 264.48L262.27 264.47L263.11 264.45L263.95 264.43L264.8 264.42L265.65 264.4L266.5 264.38L267.35 264.37L268.2 264.35L269.06 264.33L269.91 264.31L270.77 264.3L271.63 264.28L272.49 264.26L273.35 264.25L274.21 264.23L275.08 264.21L275.95 264.19L276.81 264.18L277.68 264.16L278.56 264.14L279.43 264.12L280.3 264.11L281.18 264.09L282.05 264.07L282.93 264.06L283.81 264.04L284.7 264.02L285.58 264L286.46 263.99L287.35 263.97L288.24 263.95L289.13 263.93L290.02 263.92L290.91 263.9L291.81 263.88L292.7 263.87L293.6 263.85L294.5 263.83L295.4 263.81L296.3 263.8L297.2 263.78L298.11 263.76L299.01 263.75L299.92 263.73L300.83 263.71L301.74 263.7L302.65 263.68L303.57 263.66L304.48 263.65L305.4 263.63L306.32 263.62L307.24 263.6L308.16 263.58L309.09 263.57L310.01 263.55L310.94 263.54L311.86 263.52L312.79 263.5L313.72 263.49L314.66 263.47L315.59 263.46L316.53 263.44L317.46 263.43L318.4 263.41L319.34 263.4L320.28 263.38L321.23 263.37L322.17 263.36L323.12 263.34L324.07 263.33L325.01 263.31L325.97 263.3L326.92 263.28L327.87 263.27L328.83 263.26L329.78 263.24L330.74 263.23L331.7 263.22L332.66 263.21L333.63 263.19L334.59 263.18L335.56 263.17L336.53 263.16L337.49 263.14L338.47 263.13L339.44 263.12L340.41 263.11L341.39 263.1L342.36 263.09L343.34 263.08L344.32 263.07L345.3 263.06L346.29 263.05L347.27 263.04L348.26 263.03L349.24 263.02L350.23 263.01L351.22 263L352.22 262.99L353.21 262.98L354.21 262.97L355.2 262.97L356.2 262.96L357.2 262.95L358.2 262.94L359.2 262.94L360.21 262.93L361.22 262.92L362.22 262.92L363.23 262.91L364.24 262.91L365.25 262.9L366.27 262.9L367.28 262.89L368.3 262.89L369.32 262.88L370.34 262.88L371.36 262.88L372.38 262.87L373.41 262.87L374.43 262.87L375.46 262.86L376.49 262.86L377.52 262.86L378.55 262.86L379.58 262.86L380.62 262.86L381.66 262.86L382.69 262.86L383.73 262.86L384.78 262.86L385.82 262.86L386.86 262.86L387.91 262.87L388.96 262.87L390 262.87L391.06 262.88L392.11 262.88L393.16 262.88L394.22 262.89L395.27 262.89L396.33 262.9L397.39 262.9L398.45 262.91L399.51 262.92L400.58 262.92L401.64 262.93L402.71 262.94L403.78 262.95L404.85 262.96" fill="none" stroke="#00ff00" stroke-width="3.3" stroke-linejoin="round" stroke-dasharray="9.2 2.6 4.5 2.604" stroke-dashoffset="1.41"/>
<path d="M22.2 273.2H412.3M30.2 273.2V31.74M30.20 273.2v-5.2M48.92 273.2v-3.15M67.64 273.2v-3.15M86.35 273.2v-3.15M105.07 273.2v-5.2M123.79 273.2v-3.15M142.50 273.2v-3.15M161.22 273.2v-3.15M179.94 273.2v-5.2M198.66 273.2v-3.15M217.38 273.2v-3.15M236.09 273.2v-3.15M254.81 273.2v-5.2M273.53 273.2v-3.15M292.25 273.2v-3.15M310.96 273.2v-3.15M329.68 273.2v-5.2M348.40 273.2v-3.15M367.12 273.2v-3.15M385.83 273.2v-3.15M404.55 273.2v-5.2M30.2 273.20h4.9M30.2 258.14h2.9M30.2 243.08h2.9M30.2 228.02h2.9M30.2 212.96h2.9M30.2 197.90h4.9M30.2 182.84h2.9M30.2 167.78h2.9M30.2 152.72h2.9M30.2 137.66h2.9M30.2 122.60h4.9M30.2 107.54h2.9M30.2 92.48h2.9M30.2 77.42h2.9M30.2 62.36h2.9M30.2 47.30h4.9M30.2 32.24h2.9" stroke="#000" stroke-width="0.65" fill="none"/>
<g font-family="'Liberation Serif', serif" fill="#000">
<g font-size="13.5" text-anchor="middle">
<text x="30.2" y="289.05">0</text>
<text x="105.07" y="289.05">2</text>
<text x="179.94" y="289.05">4</text>
<text x="254.81" y="289.05">6</text>
<text x="329.68" y="289.05">8</text>
<text x="405.2" y="289.05">10</text>
</g>
<g font-size="13" text-anchor="end">
<text x="25.2" y="202.1">0.05</text>
<text x="25.2" y="126.8">0.10</text>
<text x="25.2" y="51.5">0.15</text>
</g>
<text x="424.2" y="278.3" font-size="14" font-style="italic">q</text>
<text x="431.2" y="273.3" font-size="9.5">2</text>
<text x="0.5" y="14.6" font-size="14" font-style="italic">G</text>
<text x="10" y="9.2" font-size="8.5">+</text>
<text x="13" y="18.4" font-size="9.5" font-style="italic">B</text>
<text x="19.5" y="20.6" font-size="7.5">0</text>
<text x="25.1" y="18.4" font-size="9.5" font-style="italic">B</text>
<text x="31.2" y="20.7" font-size="7.5">2</text>
<text x="35.7" y="20.9" font-size="5.5" font-style="italic">j</text>
<text x="39.6" y="14.6" font-size="14">(</text>
<text x="44.2" y="14.6" font-size="14" font-style="italic">q</text>
<text x="51.9" y="9.8" font-size="9">2</text>
<text x="55.5" y="14.6" font-size="14">)</text>
</g>
</svg></body></html>
